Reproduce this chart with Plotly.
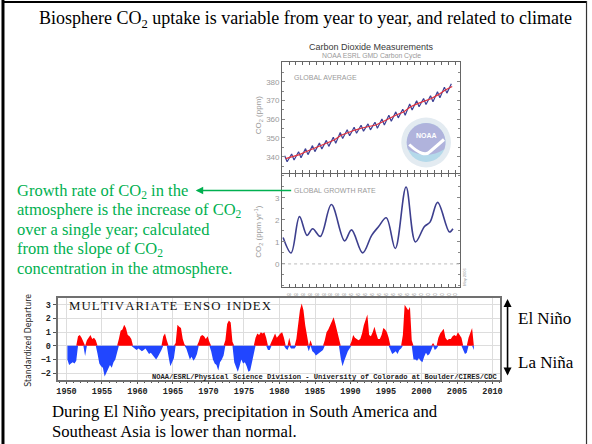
import math
import plotly.graph_objects as go

W, H = 592, 444

def px(x):
    return x / W

def py(y):
    return 1 - y / H

# ---------------- DATA ----------------
# Global average CO2 (ppm): seasonal maxima (May) and minima (Sep) per year
co2_years = list(range(1980, 2005))
co2_may_peaks = [340.5, 341.4, 342.6, 344.3, 345.9, 347.3, 348.7, 350.4, 352.9, 354.4,
                 355.7, 356.8, 357.5, 358.4, 360.1, 362.1, 363.9, 365.3, 368.1, 369.8,
                 371.0, 372.5, 374.6, 377.1, 378.9]
co2_sep_troughs = [337.3, 338.2, 339.4, 341.1, 342.7, 344.1, 345.5, 347.2, 349.7, 351.2,
                   352.5, 353.6, 354.3, 355.2, 356.9, 358.9, 360.7, 362.1, 364.9, 366.6,
                   367.8, 369.3, 371.4, 373.9]
# deseasonalized trend (annual means)
co2_trend = [339.0, 339.9, 341.1, 342.8, 344.4, 345.8, 347.2, 348.9, 351.4, 352.9,
             354.2, 355.3, 356.0, 356.9, 358.6, 360.6, 362.4, 363.8, 366.6, 368.3,
             369.5, 371.0, 373.1, 375.6, 377.4]

# Global growth rate (ppm/yr)
growth_time = [1980.15, 1981.3, 1982.5, 1983.6, 1984.4, 1985.5, 1987.1, 1989.0, 1990.0,
               1991.6, 1992.9, 1993.9, 1995.0, 1996.3, 1997.85, 1999.2, 2000.5, 2001.3,
               2002.4, 2004.1, 2004.6]
growth_rate = [1.2, 0.5, 2.15, 1.3, 1.6, 1.25, 2.7, 1.05, 1.55, 0.5, 1.3, 1.7, 2.1, 0.7,
               3.5, 1.0, 1.7, 1.9, 2.8, 1.45, 1.6]
growth_tick_years = list(range(1981, 2006))
growth_tick_text = ["%02d" % (y % 100) for y in growth_tick_years]

# Multivariate ENSO Index, quarterly values starting 1950.0
mei_start = 1950
mei_values = [
    -1.0, -1.4, -1.3, -1.2,   # 1950
    -1.3, -1.1, 0.7, 0.8,     # 1951
    0.6, 0.3, -0.75, 0.4,     # 1952
    0.6, 0.8, 0.5, 0.6,       # 1953
    0.4, -0.6, -1.3, -1.5,    # 1954
    -1.6, -2.25, -2.0, -1.7,  # 1955
    -1.4, -1.6, -1.2, -1.0,   # 1956
    -0.5, 0.5, 1.1, 1.2,      # 1957
    1.55, 1.3, 0.8, 0.7,      # 1958
    0.5, -0.1, -0.2, -0.3,    # 1959
    -0.2, -0.3, -0.4, -0.3,   # 1960
    -0.2, -0.4, -0.6, -0.5,   # 1961
    -0.7, -0.9, -1.0, -0.8,   # 1962
    -0.6, -0.3, 0.7, 0.9,     # 1963
    0.4, -0.8, -1.5, -1.2,    # 1964
    -0.9, 0.2, 1.55, 1.4,     # 1965
    1.3, 0.5, 0.1, -0.2,      # 1966
    -0.6, -1.0, -0.8, -1.1,   # 1967
    -0.9, -0.6, 0.3, 0.7,     # 1968
    0.8, 0.7, 0.5, 0.7,       # 1969
    0.3, -0.4, -1.0, -1.3,    # 1970
    -1.4, -1.8, -1.2, -1.0,   # 1971
    -0.7, 0.4, 1.6, 1.85,     # 1972
    1.7, 0.3, -1.2, -1.6,     # 1973
    -1.9, -1.5, -1.0, -1.3,   # 1974
    -1.2, -1.5, -1.9, -1.8,   # 1975
    -1.3, -0.6, 0.6, 0.9,     # 1976
    0.8, 1.0, 0.9, 1.0,       # 1977
    0.6, -0.3, -0.3, 0.3,     # 1978
    0.7, 0.9, 0.6, 0.8,       # 1979
    0.9, 1.0, 0.6, -0.2,      # 1980
    -0.3, 0.6, -0.2, -0.2,    # 1981
    -0.2, 0.5, 1.8, 2.6,      # 1982
    3.1, 2.6, 1.5, 0.6,       # 1983
    -0.4, 0.4, -0.4, -0.5,    # 1984
    -0.7, -0.6, -0.5, -0.4,   # 1985
    -0.3, 0.4, 1.0, 1.2,      # 1986
    1.5, 1.9, 2.1, 1.6,       # 1987
    1.1, 0.6, -0.9, -1.5,     # 1988
    -1.1, -0.7, -0.4, -0.2,   # 1989
    0.3, 0.8, 0.6, 0.5,       # 1990
    0.4, 0.5, 0.9, 1.5,       # 1991
    1.9, 2.3, 0.8, 0.7,       # 1992
    1.0, 1.4, 0.9, 0.5,       # 1993
    0.5, 0.8, 1.3, 1.2,       # 1994
    1.0, 0.6, -0.3, -0.6,     # 1995
    -0.5, -0.4, -0.6, -0.3,   # 1996
    -0.2, 0.8, 3.0, 2.8,      # 1997
    2.6, 2.85, 0.4, -1.0,     # 1998
    -1.0, -1.1, -0.9, -1.1,   # 1999
    -1.2, -0.8, -0.5, -0.7,   # 2000
    -0.6, -0.3, 0.2, -0.3,    # 2001
    -0.2, 0.6, 0.9, 1.1,      # 2002
    1.25, 0.6, 0.4, 0.5,      # 2003
    0.5, 0.7, 0.8, 0.7,       # 2004
    1.0, 0.8, 0.6, -0.3,      # 2005
    -0.6, -0.5, 0.6, 1.0,     # 2006
    1.3, -0.3,                # 2007
]
mei_tick_years = list(range(1950, 2011, 5))

# ---------------- FIGURE ----------------
fig = go.Figure()

# CO2 seasonal curve
co2_x, co2_y = [], []
for i, yr in enumerate(co2_years):
    co2_x.append(yr + 4.5 / 12)
    co2_y.append(co2_may_peaks[i])
    if i < len(co2_sep_troughs):
        co2_x.append(yr + 8.7 / 12)
        co2_y.append(co2_sep_troughs[i])
fig.add_trace(go.Scatter(x=co2_x, y=co2_y, mode="lines",
                         line=dict(color="#3b3f94", width=1.2),
                         xaxis="x", yaxis="y", showlegend=False, hoverinfo="skip"))
fig.add_trace(go.Scatter(x=[y + 0.5 for y in co2_years], y=co2_trend, mode="lines",
                         line=dict(color="#e3323c", width=1.2),
                         xaxis="x", yaxis="y", showlegend=False, hoverinfo="skip"))

# Growth rate
fig.add_trace(go.Scatter(x=growth_time, y=growth_rate, mode="lines",
                         line=dict(color="#3d3f8e", width=1.6, shape="spline", smoothing=1.0),
                         xaxis="x2", yaxis="y2", showlegend=False, hoverinfo="skip"))

# MEI as filled positive (red) / negative (blue) areas
mei_x = [mei_start + 0.125 + 0.25 * i for i in range(len(mei_values))]
mei_pos = [max(v, 0) for v in mei_values]
mei_neg = [min(v, 0) for v in mei_values]
fig.add_trace(go.Scatter(x=mei_x, y=mei_pos, mode="lines", fill="tozeroy",
                         fillcolor="#ff0000", line=dict(width=0, color="#ff0000"),
                         xaxis="x3", yaxis="y3", showlegend=False, hoverinfo="skip"))
fig.add_trace(go.Scatter(x=mei_x, y=mei_neg, mode="lines", fill="tozeroy",
                         fillcolor="#2146ff", line=dict(width=0, color="#2146ff"),
                         xaxis="x3", yaxis="y3", showlegend=False, hoverinfo="skip"))

gray_tick = dict(family="Liberation Sans, Arial, sans-serif", size=8, color="#9a9a9a")
mono_bold = dict(family="Liberation Mono, Courier New, monospace", size=8.5, color="#222", weight="bold")

fig.update_layout(
    width=W, height=H,
    margin=dict(l=0, r=0, t=0, b=0),
    paper_bgcolor="white", plot_bgcolor="white",
    xaxis=dict(domain=[px(283), px(462)], range=[1980.0, 2005.6], anchor="y",
               showticklabels=False, ticks="inside", ticklen=3, tickcolor="#666",
               tickvals=growth_tick_years, mirror="ticks", showline=True,
               linecolor="#666", linewidth=1, showgrid=False, zeroline=False),
    yaxis=dict(domain=[py(173), py(62)], range=[331.3, 390.5], anchor="x",
               tickvals=[340, 350, 360, 370, 380], ticks="inside", ticklen=3,
               tickcolor="#888", tickfont=gray_tick, mirror="ticks", showline=True,
               linecolor="#666", linewidth=1, showgrid=False, zeroline=False,
               minor=dict(dtick=5, ticks="inside", ticklen=2, tickcolor="#888")),
    xaxis2=dict(domain=[px(283), px(462)], range=[1980.0, 2005.6], anchor="y2",
                tickvals=growth_tick_years, ticktext=growth_tick_text,
                tickfont=dict(family="Liberation Sans, Arial", size=4.5, color="#888"),
                ticks="inside", ticklen=3, tickcolor="#666", mirror="ticks",
                showline=True, linecolor="#666", linewidth=1, showgrid=False,
                zeroline=False, ticklabelstandoff=2),
    yaxis2=dict(domain=[py(287), py(174)], range=[-1.05, 4.09], anchor="x2",
                tickvals=[0, 1, 2, 3], ticks="inside", ticklen=3, tickcolor="#888",
                tickfont=gray_tick, mirror="ticks", showline=True, linecolor="#666",
                linewidth=1, showgrid=False, zeroline=False,
                minor=dict(dtick=0.5, ticks="inside", ticklen=2, tickcolor="#888")),
    xaxis3=dict(domain=[px(57), px(502)], range=[1948.75, 2011], anchor="y3",
                tickvals=mei_tick_years, tickfont=mono_bold, ticks="outside",
                ticklen=2, tickcolor="#555", showgrid=True, gridcolor="#dddddd",
                gridwidth=1, showline=True, mirror=True, linecolor="#707070",
                linewidth=2, zeroline=False,
                minor=dict(dtick=1, ticks="outside", ticklen=1, tickcolor="#555")),
    yaxis3=dict(domain=[py(380), py(298)], range=[-2.5, 3.5], anchor="x3",
                tickvals=[-2, -1, 0, 1, 2, 3], tickfont=mono_bold, ticks="outside",
                ticklen=3, tickcolor="#555", showgrid=True, gridcolor="#dddddd",
                gridwidth=1, showline=True, mirror=True, linecolor="#707070",
                linewidth=2, zeroline=False),
)

shapes = []
# zero dotted line in growth chart
shapes.append(dict(type="line", xref="x2 domain", yref="y2", x0=0, x1=1, y0=0, y1=0,
                   line=dict(color="#bbbbbb", width=1, dash="dot")))

# NOAA logo
cx, cy = 428, 142.5
def circ(r, fill):
    return dict(type="circle", xref="paper", yref="paper",
                x0=px(cx - r), x1=px(cx + r), y0=py(cy + r), y1=py(cy - r),
                fillcolor=fill, line=dict(width=0), layer="above")
shapes.append(circ(25, "#e3ebf1"))
shapes.append(circ(19.5, "#b4d9ea"))
# upper (lavender) region of the emblem
pts = []
for k in range(0, 31):
    a = math.radians(200 - k * (220 / 30))
    pts.append((cx + 19.5 * math.cos(a), cy - 19.5 * math.sin(a)))
path = "M %f %f" % (px(pts[0][0]), py(pts[0][1]))
for (x, y) in pts[1:]:
    path += " L %f %f" % (px(x), py(y))
path += " Q %f %f %f %f Z" % (px(cx), py(cy + 18), px(pts[0][0]), py(pts[0][1]))
shapes.append(dict(type="path", xref="paper", yref="paper", path=path,
                   fillcolor="#b0b3dc", line=dict(width=0), layer="above"))
# seagull
gull = "M %f %f Q %f %f %f %f Q %f %f %f %f" % (
    px(cx - 17), py(cy + 2), px(cx - 2), py(cy + 16), px(cx + 4), py(cy + 9),
    px(cx + 10), py(cy + 4), px(cx + 18), py(cy - 3))
shapes.append(dict(type="path", xref="paper", yref="paper", path=gull,
                   line=dict(color="white", width=3), layer="above"))

# slide frame
shapes.append(dict(type="line", xref="paper", yref="paper", x0=px(2), x1=px(2),
                   y0=py(0), y1=py(444), line=dict(color="black", width=3)))
shapes.append(dict(type="line", xref="paper", yref="paper", x0=px(1), x1=px(590),
                   y0=py(2), y1=py(2), line=dict(color="black", width=2)))
shapes.append(dict(type="line", xref="paper", yref="paper", x0=px(589.5), x1=px(589.5),
                   y0=py(1), y1=py(444), line=dict(color="#333", width=1.2)))
fig.update_layout(shapes=shapes)

serif = "Liberation Serif, Times New Roman, serif"
sans = "Liberation Sans, Arial, sans-serif"
green = "#00b050"

ann = []
def text(x, y, s, size, color="black", family=serif, xanchor="left", angle=0, **kw):
    d = dict(x=px(x), y=py(y), xref="paper", yref="paper", text=s, showarrow=False,
             xanchor=xanchor, yanchor="middle", textangle=angle,
             font=dict(family=family, size=size, color=color))
    d.update(kw)
    ann.append(d)

text(307, 20, "Biosphere CO<sub>2</sub> uptake is variable from year to year, and related to climate",
     18, xanchor="center")
text(373, 47.5, "Carbon Dioxide Measurements", 9, color="#3a3a3a", family=sans, xanchor="center")
text(373, 55.5, "NOAA ESRL GMD Carbon Cycle", 6.8, color="#999", family=sans, xanchor="center")
text(293, 77.5, "GLOBAL AVERAGE", 7, color="#9a9a9a", family=sans)
text(293, 190, "GLOBAL GROWTH RATE", 7, color="#9a9a9a", family=sans)
text(260, 115, "CO<sub>2</sub> (ppm)", 8, color="#9a9a9a", family=sans, xanchor="center", angle=-90)
text(258.5, 232, "CO<sub>2</sub> (ppm yr<sup>-1</sup>)", 8, color="#9a9a9a", family=sans,
     xanchor="center", angle=-90)
text(466, 277, "May 2006", 4, color="#999", family=sans, xanchor="center", angle=-90)
text(cx, 135, "<b>NOAA</b>", 7, color="white", family=sans, xanchor="center")

green_lines = [
    "Growth rate of CO<sub>2</sub> in the",
    "atmosphere is the increase of CO<sub>2</sub>",
    "over a single year; calculated",
    "from the slope of CO<sub>2</sub>",
    "concentration in the atmosphere.",
]
for i, s in enumerate(green_lines):
    text(14, 190.5 + i * 19.4, s, 16.5, color=green)

# green arrow (head at left end)
ann.append(dict(x=px(196), y=py(190.5), ax=97, ay=0, xref="paper", yref="paper",
                text="", showarrow=True, arrowhead=2,
                arrowsize=1, arrowwidth=1.5, arrowcolor=green))

hs = "\u200a"
mei_title = "  ".join(hs.join(word) for word in ["MULTIVARIATE", "ENSO", "INDEX"])
text(66, 306, mei_title, 12.8, color="#111", family=serif)
text(150, 376.8, "<b>NOAA/ESRL/Physical Science Division - University of Colorado at Boulder/CIRES/CDC</b>",
     7.1, color="#222", family="Liberation Mono, Courier New, monospace")
text(27, 340, "Standardized Departure", 8.6, color="#222",
     family="Liberation Sans Narrow, DejaVu Sans Condensed, Arial Narrow, sans-serif",
     xanchor="center", angle=-90)

# El Nino / La Nina double arrow
ann.append(dict(x=px(510), y=py(299), ax=0, ay=78, xref="paper", yref="paper",
                text="", showarrow=True, arrowhead=2,
                arrowside="end+start", arrowsize=1, arrowwidth=1.6, arrowcolor="black"))
text(518, 318.5, "El Niño", 17)
text(518, 362, "La Niña", 17)

text(49, 411, "During El Niño years, precipitation in South America and", 16.7)
text(49, 431, "Southeast Asia is lower than normal.", 16.7)

fig.update_layout(annotations=ann)

fig.write_html("out.html")
